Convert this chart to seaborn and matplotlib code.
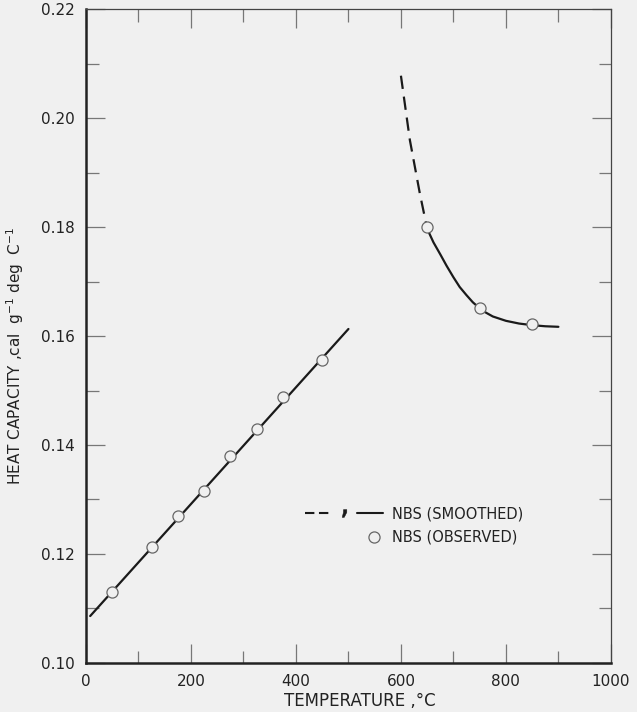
import numpy as np
import pandas as pd
import seaborn as sns
import matplotlib
matplotlib.use("Agg")
import matplotlib.pyplot as plt
from matplotlib.lines import Line2D
from matplotlib.legend_handler import HandlerTuple
from matplotlib.ticker import MultipleLocator, FormatStrFormatter

# smoothed curve, low-temperature phase (straight line)
low_temp = [8, 500]
low_cp = [0.1086, 0.1613]

# smoothed curve above transition, dashed extrapolated part
dash_temp = [600, 617, 636, 650]
dash_cp = [0.2078, 0.1960, 0.1862, 0.1797]

# smoothed curve above transition, solid part
high_temp = [650, 662, 675, 687, 700, 712, 725, 737, 750, 762, 775, 800, 825, 850, 875, 900]
high_cp = [0.1797, 0.1772, 0.1750, 0.1729, 0.1708, 0.1690, 0.1675, 0.1662, 0.1651,
           0.1643, 0.1636, 0.1628, 0.1623, 0.1620, 0.1618, 0.1617]

# observed points
obs_temp = [50, 125, 175, 225, 275, 325, 375, 450, 650, 750, 850]
obs_cp = [0.1130, 0.1212, 0.1269, 0.1315, 0.1380, 0.1430, 0.1488, 0.1556, 0.1800, 0.1652, 0.1622]

x_ticks = [0, 200, 400, 600, 800, 1000]
y_ticks = [0.10, 0.12, 0.14, 0.16, 0.18, 0.20, 0.22]

bg = "#f0f0f0"
sns.set_theme(style="ticks")
plt.rcParams['font.family'] = ['DejaVu Sans']

df_low = pd.DataFrame({'T': low_temp, 'Cp': low_cp})
df_dash = pd.DataFrame({'T': dash_temp, 'Cp': dash_cp})
df_high = pd.DataFrame({'T': high_temp, 'Cp': high_cp})
df_obs = pd.DataFrame({'T': obs_temp, 'Cp': obs_cp})

fig = plt.figure(figsize=(6.37, 7.12), dpi=100, facecolor=bg)
ax = fig.add_axes([0.135, 0.069, 0.824, 0.918])
ax.set_facecolor(bg)

sns.lineplot(data=df_low, x='T', y='Cp', ax=ax, color='#1a1a1a', lw=1.6)
sns.lineplot(data=df_high, x='T', y='Cp', ax=ax, color='#1a1a1a', lw=1.6)
sns.lineplot(data=df_dash, x='T', y='Cp', ax=ax, color='#1a1a1a', lw=1.6,
             dashes=False, linestyle=(0, (6, 3.5)))
ax.plot(df_obs['T'], df_obs['Cp'], 'o', ms=8, mfc=bg, mec='#666666', mew=0.9, zorder=5)

ax.set_xlim(0, 1000)
ax.set_ylim(0.10, 0.22)
ax.set_xticks(x_ticks)
ax.set_yticks(y_ticks)
ax.xaxis.set_minor_locator(MultipleLocator(100))
ax.yaxis.set_minor_locator(MultipleLocator(0.01))
ax.yaxis.set_major_formatter(FormatStrFormatter('%.2f'))
ax.tick_params(which='both', direction='in', top=True, right=True,
               color='#777777', width=0.9, labelsize=11, labelcolor='#222222')
ax.tick_params(which='major', length=14, pad=8)
ax.tick_params(which='minor', length=9)

for s in ['left', 'bottom']:
    ax.spines[s].set_linewidth(1.8)
    ax.spines[s].set_color('#222222')
for s in ['top', 'right']:
    ax.spines[s].set_linewidth(0.9)
    ax.spines[s].set_color('#444444')

ax.set_xlabel('TEMPERATURE ,°C', fontsize=12, color='#222222')
ax.xaxis.set_label_coords(0.522, -0.045)
ax.set_ylabel('HEAT CAPACITY ,cal  g$^{-1}$ deg  C$^{-1}$', fontsize=11,
              color='#222222')
ax.yaxis.set_label_coords(-0.115, 0.47)

h_dash = Line2D([], [], color='#1a1a1a', lw=1.5, linestyle=(0, (4.5, 2.2)))
h_comma = Line2D([], [], color='#1a1a1a', marker='$,$', ms=5.5, mew=0.4, linestyle='none')
h_solid = Line2D([], [], color='#1a1a1a', lw=1.5)
h_blank = Line2D([], [], color='none')
h_circ = Line2D([], [], marker='o', ms=8, mfc=bg, mec='#666666', mew=0.9, linestyle='none')
ax.legend([(h_dash, h_comma, h_solid), (h_blank, h_blank, h_blank, h_circ)],
          ['NBS (SMOOTHED)', 'NBS (OBSERVED)'],
          handler_map={tuple: HandlerTuple(ndivide=None, pad=0.0)},
          handlelength=5.4, handletextpad=0.6, fontsize=10.5, frameon=False,
          loc='center', bbox_to_anchor=(0.625, 0.21), labelspacing=0.6,
          labelcolor='#222222')

fig.savefig('out.png', dpi=100, facecolor=bg)
